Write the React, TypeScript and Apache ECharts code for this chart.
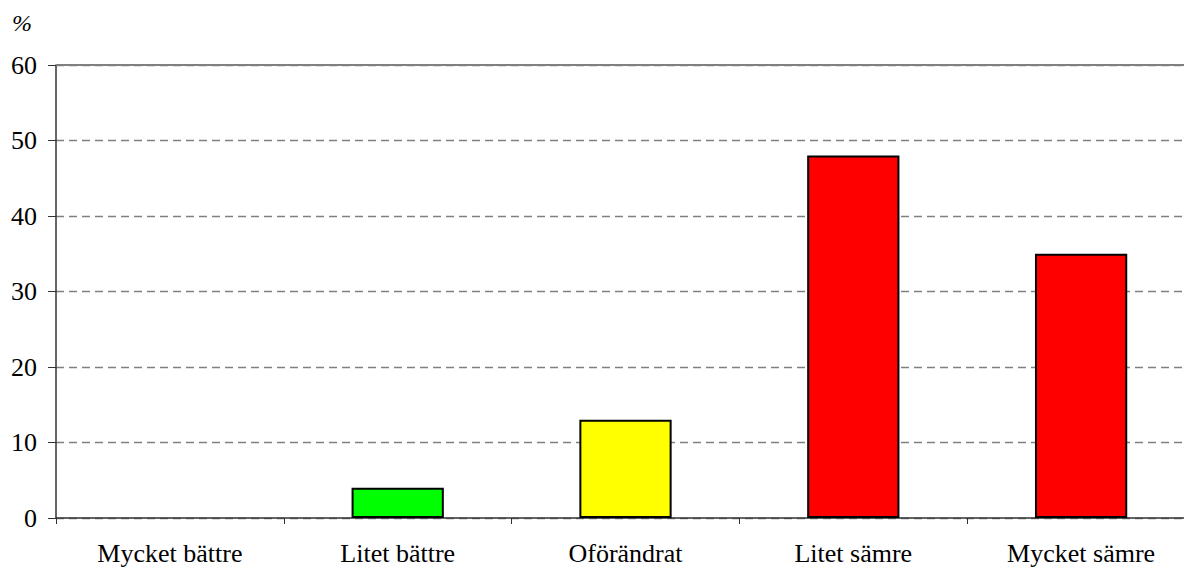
import React, { useEffect, useRef } from "react";
import * as echarts from "echarts";

const categories = ["Mycket bättre", "Litet bättre", "Oförändrat", "Litet sämre", "Mycket sämre"];
const values = [0, 4, 13, 48, 35];
const barColors = ["#00FF00", "#00FF00", "#FFFF00", "#FF0000", "#FF0000"];
const yTicks = { min: 0, max: 60, interval: 10 };
const unitLabel = "%";

const FONT = "Liberation Serif";

export default function App() {
  const ref = useRef<HTMLDivElement>(null);
  useEffect(() => {
    if (!ref.current) return;
    const chart = echarts.init(ref.current, undefined, { renderer: "svg" });
    chart.setOption({
      animation: false,
      grid: { left: 56, top: 65, width: 1139, height: 453, outerBoundsMode: "none", containLabel: false },
      graphic: [
        {
          type: "text",
          left: 12,
          top: 11,
          style: { text: unitLabel, fontFamily: FONT, fontStyle: "italic", fontSize: 24, fill: "#000" },
        },
      ],
      xAxis: {
        type: "category",
        data: categories,
        axisLine: { lineStyle: { color: "#333", width: 1.5 } },
        axisTick: { show: true, length: 6, lineStyle: { color: "#333" } },
        axisLabel: { color: "#000", fontSize: 26, fontFamily: FONT, margin: 22, interval: 0 },
        splitLine: { show: false },
      },
      yAxis: {
        type: "value",
        min: yTicks.min,
        max: yTicks.max,
        interval: yTicks.interval,
        axisLine: { show: true, lineStyle: { color: "#333", width: 1.5 } },
        axisTick: { show: true, length: 8, lineStyle: { color: "#333" } },
        axisLabel: { color: "#000", fontSize: 26, fontFamily: FONT, margin: 19 },
        splitLine: { show: true, lineStyle: { color: "#808080", type: [8, 5], width: 1.3 } },
      },
      series: [
        {
          type: "bar",
          data: values.map((v, i) => ({
            value: v,
            itemStyle: { color: barColors[i], borderWidth: v === 0 ? 0 : 2 },
          })),
          barWidth: "40.5%",
          itemStyle: { borderColor: "#000", borderWidth: 2 },
          markLine: {
            silent: true,
            symbol: "none",
            label: { show: false },
            lineStyle: { color: "#808080", type: "solid", width: 2 },
            data: [{ yAxis: yTicks.max }],
          },
        },
      ],
    });
    return () => chart.dispose();
  }, []);
  return (
    <div
      ref={ref}
      style={{ position: "absolute", left: 0, top: 0, width: 1184, height: 569, background: "#fff" }}
    />
  );
}
